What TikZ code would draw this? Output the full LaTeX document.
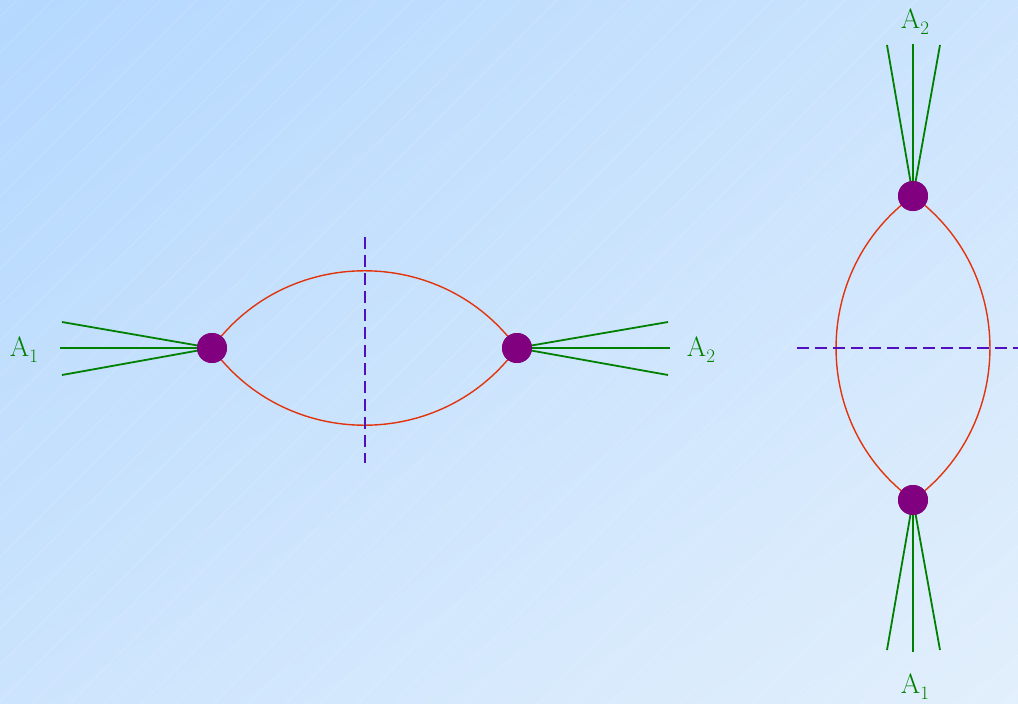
\documentclass[tikz,border=0pt]{standalone}
\usepackage{fontspec}
\setmainfont{Latin Modern Roman}
\usetikzlibrary{calc,shadings}
\definecolor{bgA}{RGB}{180,216,254}
\definecolor{bgB}{RGB}{226,239,252}
\definecolor{bgC}{RGB}{204,228,253}
\definecolor{leg}{RGB}{0,128,0}
\definecolor{vtx}{RGB}{128,0,128}
\definecolor{prop}{RGB}{226,52,12}
\definecolor{cutc}{RGB}{80,16,192}
\tikzset{
  vertex/.style={circle,fill=vtx,inner sep=0pt,minimum size=30pt},
  legline/.style={draw=leg,line width=1.8pt},
  propline/.style={draw=prop,line width=1.4pt},
  cutline/.style={draw=cutc,line width=1.6pt,dash pattern=on 12pt off 6pt},
  lab/.style={text=leg,font=\fontsize{28}{32}\selectfont,inner sep=0pt}
}
\newcommand{\labsub}[1]{A\raisebox{-6pt}{\fontsize{19}{22}\selectfont #1}}
\begin{document}
\begin{tikzpicture}[x=1pt,y=-1pt]
\useasboundingbox (0,0) rectangle (1018,704);
\shade[upper left=bgA,lower right=bgB,upper right=bgC,lower left=bgC] (0,0) rectangle (1018,704);
\begin{scope}
\clip (0,0) rectangle (1018,704);
\foreach \i in {0,...,48} {
  \draw[white,opacity=0.22,line width=0.6pt] (17+36*\i,0) -- ++(-760,760);
}
\end{scope}
% left diagram
\coordinate (L1) at (62,322);
\coordinate (L2) at (60,348);
\coordinate (L3) at (62,375);
\coordinate (R1) at (668,322);
\coordinate (R2) at (670,348);
\coordinate (R3) at (668,375);
\coordinate (cT) at (365,237);
\coordinate (cB) at (365,463);
\node[vertex] (va) at (212,348) {};
\node[vertex] (vb) at (517,348) {};
\foreach \p in {L1,L2,L3} \draw[legline] (va.center) -- (\p);
\foreach \p in {R1,R2,R3} \draw[legline] (vb.center) -- (\p);
\draw[propline] (va.center) to[out=-54,in=-126,looseness=1.07] (vb.center);
\draw[propline] (va.center) to[out=54,in=126,looseness=1.07] (vb.center);
\draw[cutline] (cT) -- (cB);
\node[vertex] at (va) {};
\node[vertex] at (vb) {};
\node[lab] (la) at (24,350) {\labsub{1}};
\node[lab] (lb) at (701,350) {\labsub{2}};
% right diagram
\coordinate (T1) at (887,45);
\coordinate (T2) at (913,44);
\coordinate (T3) at (940,45);
\coordinate (B1) at (887,650);
\coordinate (B2) at (913,652);
\coordinate (B3) at (940,650);
\coordinate (hL) at (797,348);
\coordinate (hR) at (1018,348);
\node[vertex] (vt) at (913,196) {};
\node[vertex] (vd) at (913,500) {};
\foreach \p in {T1,T2,T3} \draw[legline] (vt.center) -- (\p);
\foreach \p in {B1,B2,B3} \draw[legline] (vd.center) -- (\p);
\draw[propline] (vt.center) to[out=-144,in=144,looseness=1.07] (vd.center);
\draw[propline] (vt.center) to[out=-36,in=36,looseness=1.07] (vd.center);
\draw[cutline] (hL) -- (hR);
\node[vertex] at (vt) {};
\node[vertex] at (vd) {};
\node[lab] (lt) at (915,22) {\labsub{2}};
\node[lab] (ld) at (915,687) {\labsub{1}};
\end{tikzpicture}
\end{document}
